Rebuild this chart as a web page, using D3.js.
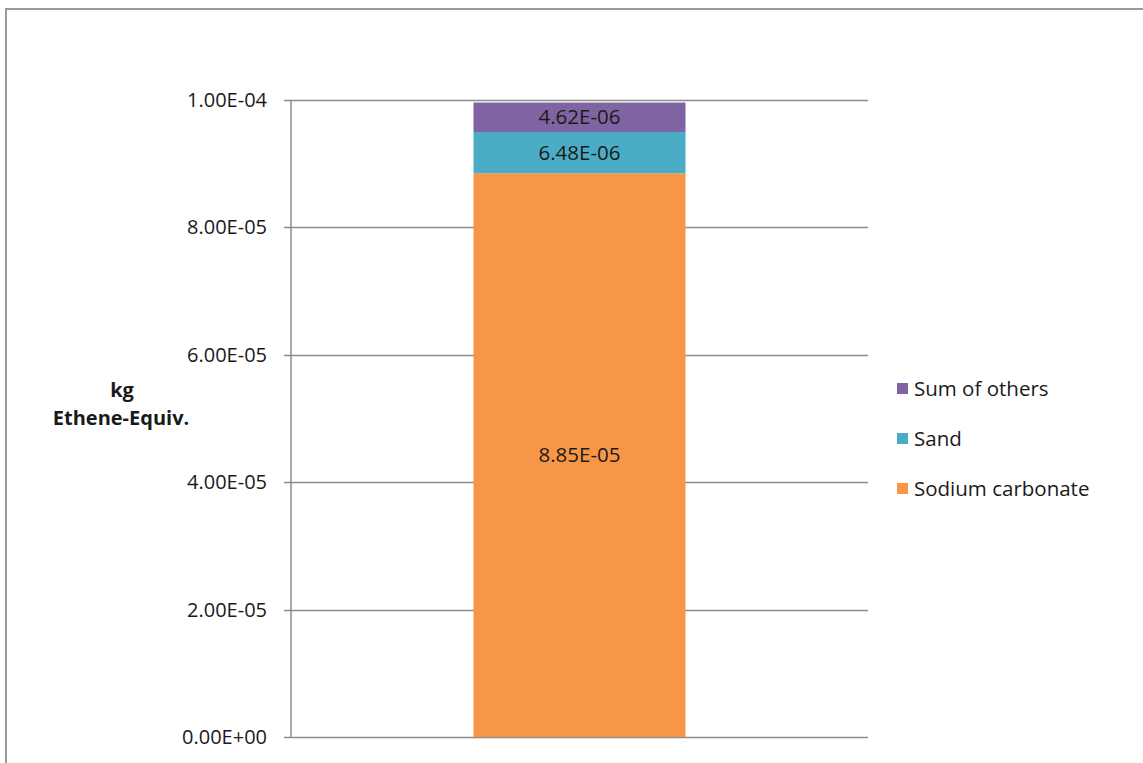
<!DOCTYPE html>
<html><head><meta charset="utf-8">
<script src="https://cdn.jsdelivr.net/npm/d3@7"></script>
<style>body{margin:0;background:#fff;} svg{display:block;} text{font-family:"Open Sans","Noto Sans",sans-serif;}</style>
</head><body><svg id="c" width="1143" height="763"></svg>
<script>
const categories = [""];
const seriesNames = ["Sodium carbonate", "Sand", "Sum of others"];
const seriesValues = [[8.85e-5], [6.48e-6], [4.62e-6]];
const seriesLabels = ["8.85E-05", "6.48E-06", "4.62E-06"];
const seriesColors = ["#F79646", "#4BACC6", "#8064A2"];
const yTicks = [0, 2e-5, 4e-5, 6e-5, 8e-5, 1e-4];
const yTickLabels = ["0.00E+00", "2.00E-05", "4.00E-05", "6.00E-05", "8.00E-05", "1.00E-04"];
const yTitle = ["kg", "Ethene-Equiv."];

(function () {
const svg = d3.select("#c");
// outer frame
svg.append("rect").attr("x", 6).attr("y", 9).attr("width", 1200).attr("height", 800)
  .attr("fill", "none").attr("stroke", "#9a9a9a").attr("stroke-width", 2);

const pL = 291, pR = 868, pT = 100, pB = 737;
const y = d3.scaleLinear().domain([0, 1e-4]).range([pB, pT]);
const x = d3.scaleBand().domain(categories).range([pL, pR]).paddingInner(0).paddingOuter(0.58);

// gridlines
svg.append("g").selectAll("line").data(yTicks).join("line")
  .attr("x1", pL - 7).attr("x2", pR)
  .attr("y1", d => Math.round(y(d)) + 0.5).attr("y2", d => Math.round(y(d)) + 0.5)
  .attr("stroke", "#8c8c8c").attr("stroke-width", 1.5);
// y axis line
svg.append("line").attr("x1", pL).attr("x2", pL).attr("y1", pT).attr("y2", pB + 0.5)
  .attr("stroke", "#8c8c8c").attr("stroke-width", 1.5);
// tick labels
svg.append("g").selectAll("text").data(yTicks).join("text")
  .attr("x", 267).attr("y", d => y(d)).attr("dy", "0.35em").attr("text-anchor", "end")
  .attr("font-size", 20).attr("fill", "#1a1a1a")
  .text((d, i) => yTickLabels[i]);

// stacked bars
const stackData = categories.map((c, ci) => {
  const o = {cat: c};
  seriesNames.forEach((s, si) => o[s] = seriesValues[si][ci]);
  return o;
});
const stacked = d3.stack().keys(seriesNames)(stackData);
const bw = 212;
const cx = x(categories[0]) + x.bandwidth() / 2;
stacked.forEach((layer, si) => {
  layer.forEach(seg => {
    svg.append("rect").attr("x", cx - bw / 2).attr("width", bw)
      .attr("y", y(seg[1])).attr("height", y(seg[0]) - y(seg[1]))
      .attr("fill", seriesColors[si]);
    svg.append("text").attr("x", cx).attr("y", (y(seg[0]) + y(seg[1])) / 2).attr("dy", "0.35em")
      .attr("text-anchor", "middle").attr("font-size", 20.5).attr("fill", "#1a1a1a")
      .text(seriesLabels[si]);
  });
});

// y title
const yt = svg.append("text").attr("text-anchor", "middle").attr("font-weight", "bold")
  .attr("font-size", 20).attr("fill", "#1a1a1a");
yt.append("tspan").attr("x", 122).attr("y", 397).text(yTitle[0]);
yt.append("tspan").attr("x", 121).attr("y", 425).text(yTitle[1]);

// legend (reverse order)
const legendOrder = [2, 1, 0];
legendOrder.forEach((si, i) => {
  const ly = 389 + i * 50;
  svg.append("rect").attr("x", 897).attr("y", ly - 6).attr("width", 11).attr("height", 11).attr("fill", seriesColors[si]);
  svg.append("text").attr("x", 914).attr("y", ly).attr("dy", "0.35em").attr("font-size", 20.5)
    .attr("fill", "#1a1a1a").text(seriesNames[si]);
});
})();
</script></body></html>
